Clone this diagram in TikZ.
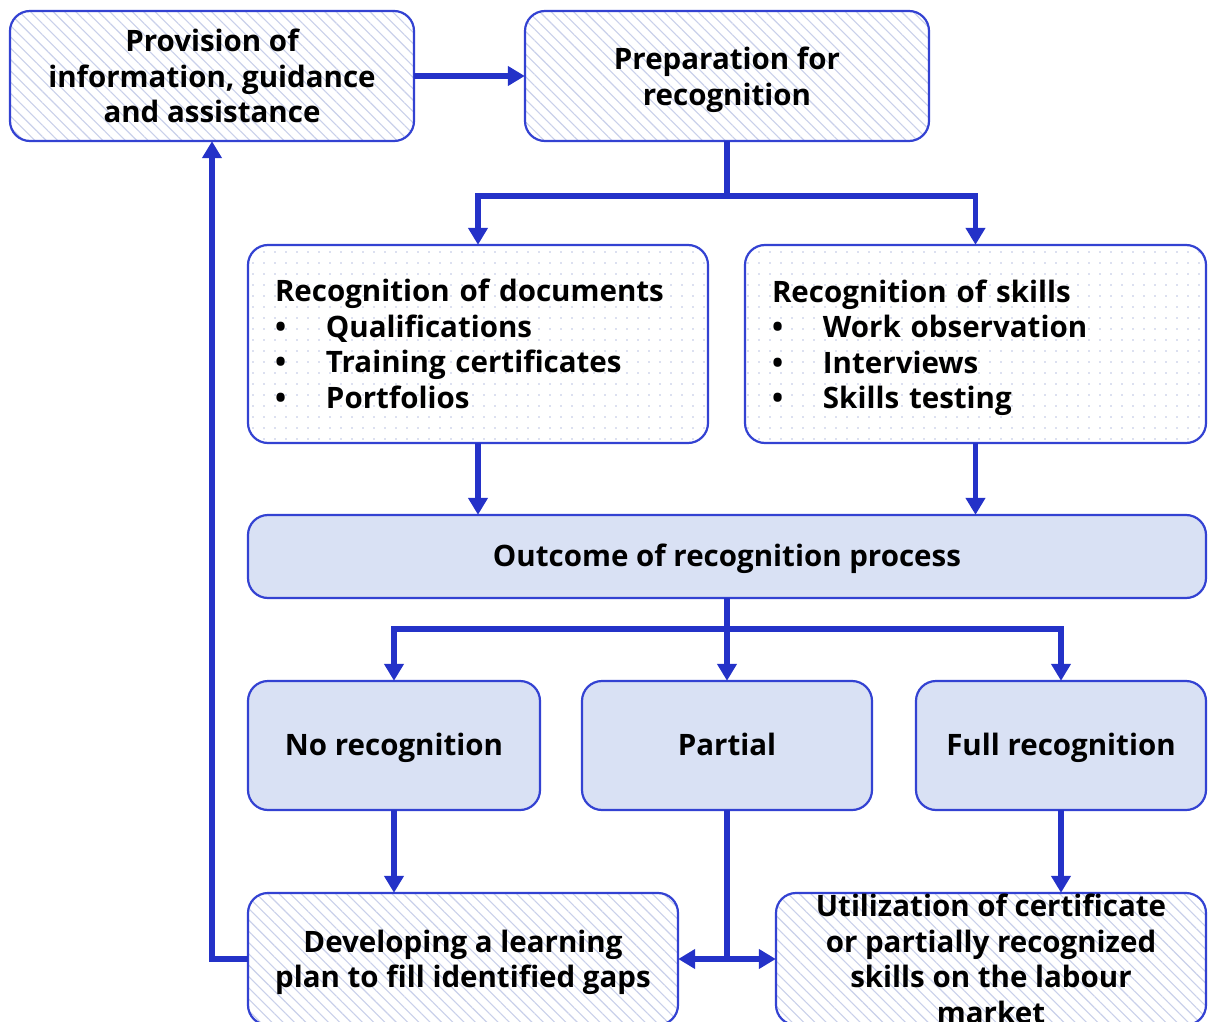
\documentclass[tikz,border=0pt]{standalone}
\usepackage{fontspec}
\setmainfont{Open Sans}[BoldFont={Open Sans Bold}]
\usetikzlibrary{arrows.meta,patterns.meta,positioning}
\definecolor{bordc}{HTML}{3342D2}
\definecolor{arrc}{HTML}{2432C8}
\definecolor{solidfill}{HTML}{D9E1F4}
\definecolor{hatchc}{HTML}{C9D0EA}
\definecolor{dotc}{HTML}{BAC2E2}
\tikzset{
  boxbase/.style={rounded corners=20pt, align=center,
    font=\fontsize{29.5}{35.5}\selectfont\bfseries, inner sep=0pt},
  outline/.style={postaction={draw=bordc, line width=2.2pt}},
  hatchbox/.style={boxbase, fill=white, postaction={pattern={Lines[angle=-45,distance=8pt,line width=1.1pt]}, pattern color=hatchc}, outline},
  dotbox/.style={boxbase, fill=white, postaction={pattern={Dots[angle=0,distance=11pt,radius=0.9pt]}, pattern color=dotc}, outline},
  solidbox/.style={boxbase, fill=solidfill, outline, text height=23pt, text depth=4pt},
  conn/.style={draw=arrc, line width=5.5pt},
  arr/.style={conn, -{Triangle[length=17pt,width=19pt]}},
}
\newcommand{\bul}{\makebox[51pt][l]{•}}
\newcommand{\nodepth}[1]{\raisebox{0pt}[\height][0pt]{#1}}
\begin{document}
\begin{tikzpicture}[x=1pt,y=-1pt]
\useasboundingbox (0,0) rectangle (1208,1022);
\node[hatchbox, minimum width=404pt, minimum height=130pt] (prov) at (212,76) {Provision of\\information, guidance\\and assistance};
\node[hatchbox, minimum width=404pt, minimum height=130pt] (prep) at (727,76) {Preparation for\\\nodepth{recognition}};
\node[dotbox, minimum width=460pt, minimum height=198pt, text width=406pt, align=left] (docs) at (478,344) {Recognition of documents\\\bul Qualifications\\\bul Training certificates\\\bul Portfolios};
\node[dotbox, minimum width=461pt, minimum height=198pt, text width=407pt, align=left] (skills) at (975.5,344) {Recognition of skills\\\bul Work observation\\\bul Interviews\\\bul \nodepth{Skills testing}};
\node[solidbox, minimum width=958pt, minimum height=83pt] (outc) at (727,556.5) {Outcome of recognition process};
\node[solidbox, minimum width=292pt, minimum height=129pt] (norec) at (394,745.5) {No recognition};
\node[solidbox, minimum width=290pt, minimum height=129pt] (part) at (727,745.5) {Partial};
\node[solidbox, minimum width=290pt, minimum height=129pt] (full) at (1061,745.5) {Full recognition};
\node[hatchbox, minimum width=430pt, minimum height=132pt] (dev) at (463,959) {Developing a learning\\\nodepth{plan to fill identified gaps}};
\node[hatchbox, minimum width=430pt, minimum height=132pt] (util) at (991,959) {Utilization of certificate\\or partially recognized\\skills on the labour\\market};
% connectors
\draw[arr] (prov.east) -- (prep.west);
\draw[conn] (prep.south) -- ++(0,55) coordinate (j1);
\draw[arr] (j1) -| (docs.north);
\draw[arr] (j1) -| (skills.north);
\draw[arr] (docs.south) -- (docs.south |- outc.north);
\draw[arr] (skills.south) -- (skills.south |- outc.north);
\draw[conn] (outc.south) -- ++(0,31) coordinate (j2);
\draw[arr] (j2) -| (norec.north);
\draw[arr] (j2) -| (full.north);
\draw[arr] (j2) -- (part.north);
\draw[arr] (norec.south) -- (norec.south |- dev.north);
\draw[arr] (full.south) -- (full.south |- util.north);
\draw[conn] (part.south) -- (part.south |- dev.east) coordinate (j3);
\draw[arr] (j3) -- (dev.east);
\draw[arr] (j3) -- (util.west);
\draw[arr] (dev.west) -| (prov.south);
\end{tikzpicture}
\end{document}
